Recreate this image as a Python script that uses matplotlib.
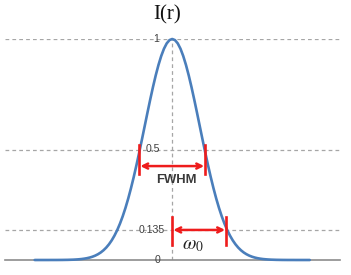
import matplotlib
matplotlib.use("Agg")
import matplotlib.pyplot as plt

plt.rcParams["mathtext.fontset"] = "stix"

# Beam profile (half profile, r in units of w0, r >= 0)
r_half = [0.0, 0.05, 0.10, 0.15, 0.20, 0.25, 0.30, 0.35, 0.40, 0.45,
          0.50, 0.55, 0.60, 0.65, 0.70, 0.75, 0.80, 0.85, 0.90, 0.95,
          1.00, 1.05, 1.10, 1.15, 1.20, 1.25, 1.30, 1.35, 1.40, 1.45,
          1.50, 1.55, 1.60, 1.65, 1.70, 1.75, 1.80, 1.85, 1.90, 1.95,
          2.00, 2.05, 2.10, 2.15, 2.20, 2.25, 2.30, 2.35, 2.40, 2.45, 2.50]
i_half = [1.0, 0.9950, 0.9802, 0.9560, 0.9231, 0.8825, 0.8353, 0.7827, 0.7261, 0.6670,
          0.6065, 0.5461, 0.4868, 0.4296, 0.3753, 0.3247, 0.2780, 0.2357, 0.1979, 0.1645,
          0.1353, 0.1103, 0.0889, 0.0710, 0.0561, 0.0439, 0.0340, 0.0261, 0.0198, 0.0149,
          0.0111, 0.0082, 0.0060, 0.0043, 0.0031, 0.0022, 0.0015, 0.0011, 0.0007, 0.0005,
          0.0003, 0.0002, 0.0001, 0.0001, 0.0001, 0.0, 0.0, 0.0, 0.0, 0.0, 0.0]

# symmetric profile
r_vals = [-r for r in r_half[::-1]] + r_half[1:]
intensity = i_half[::-1] + i_half[1:]

grid_levels = [1.0, 0.5, 0.135]
tick_values = [1.0, 0.5, 0.135, 0.0]
tick_labels = ["1", "0.5", "0.135", "0"]
fwhm_half = 0.6
w0 = 1.0

W, H = 351, 275
fig = plt.figure(figsize=(W / 100, H / 100), dpi=100)
ax = fig.add_axes([5 / W, 15 / H, 335 / W, 221 / H])
ax.set_xlim(-3.04, 3.05)
ax.set_ylim(0, 1)
ax.axis("off")

grid_col = "#a6a6a6"
for lv in grid_levels:
    ax.axhline(lv, color=grid_col, lw=0.9, ls=(0, (3, 2.5)), zorder=1)
ax.plot([0, 0], [0, 1], color=grid_col, lw=0.9, ls=(0, (3, 2.5)), zorder=1)
ax.axhline(0, color="#8c8c8c", lw=1.2, zorder=1, clip_on=False)

ax.plot(r_vals, intensity, color="#4a7ebb", lw=1.9, zorder=3, clip_on=False,
        solid_capstyle="round", solid_joinstyle="round")

label_x = [-0.29, -0.36, -0.38, -0.27]
for v, lab, lx in zip(tick_values, tick_labels, label_x):
    ax.text(lx, v, lab, ha="center", va="center", fontsize=7.6, color="#404040",
            family="Liberation Sans", zorder=2)

red = "#ee1c1c"
# FWHM markers
for xv in (-fwhm_half, fwhm_half):
    ax.plot([xv, xv], [0.389, 0.52], color=red, lw=1.9, zorder=4, clip_on=False)
ax.annotate("", xy=(fwhm_half - 0.02, 0.425), xytext=(-fwhm_half + 0.02, 0.425),
            arrowprops=dict(arrowstyle="<->", color=red, lw=1.8, mutation_scale=9,
                            shrinkA=0, shrinkB=0), zorder=4)
ax.text(0.07, 0.362, "FWHM", ha="center", va="center", fontsize=9.4,
        fontweight="bold", color="#3a3a3a", family="Liberation Sans")

# w0 markers
for xv in (0.0, w0 * 0.98):
    ax.plot([xv, xv], [0.068, 0.195], color=red, lw=1.9, zorder=4, clip_on=False)
ax.annotate("", xy=(0.96, 0.136), xytext=(0.02, 0.136),
            arrowprops=dict(arrowstyle="<->", color=red, lw=1.8, mutation_scale=9,
                            shrinkA=0, shrinkB=0), zorder=4)
ax.text(0.37, 0.07, r"$\omega_0$", ha="center", va="center", fontsize=14,
        color="#222222")

fig.text(167 / W, 1 - 15 / H, "I(r)", ha="center", va="center", fontsize=15,
         family="Liberation Serif", color="#111111")

fig.savefig("out.png", dpi=100)
